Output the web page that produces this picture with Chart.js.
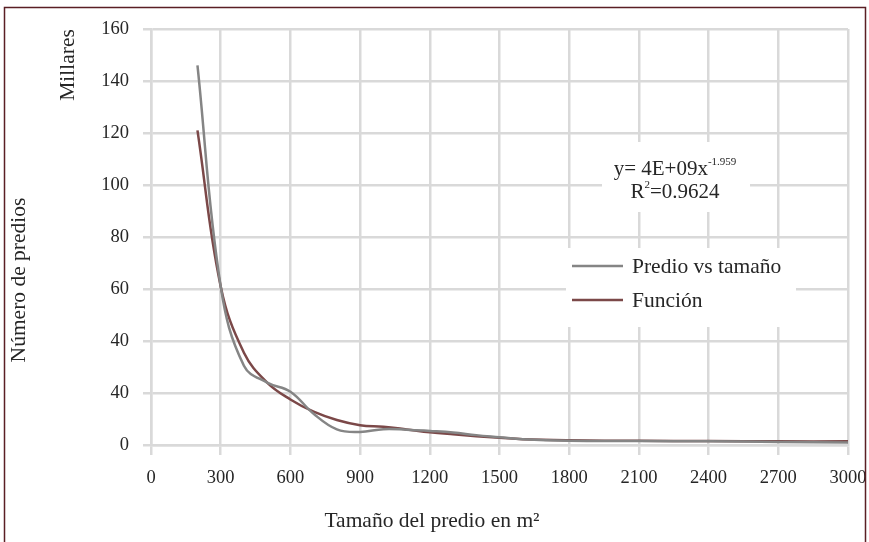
<!DOCTYPE html>
<html>
<head>
<meta charset="utf-8">
<script src="https://cdn.jsdelivr.net/npm/chart.js@4.4.0/dist/chart.umd.min.js"></script>
<style>
  body { margin: 0; background: #fff; }
  #wrap { width: 869px; height: 542px; }
</style>
</head>
<body>
<div id="wrap"><canvas id="predioChart" width="869" height="542"></canvas></div>
<script>
// tamaño del predio (m2) and the two series, in thousands
const xValues = [200, 300, 400, 500, 600, 700, 800, 900, 1000, 1100, 1200, 1300, 1400, 1500, 1600, 1800, 2100, 2400, 2700, 3000];
const predioValues = [146, 61, 30.5, 24, 20.5, 12, 6, 5, 6.1, 5.9, 5.4, 4.8, 3.8, 3, 2.2, 1.6, 1.5, 1.4, 1.2, 1.0];
const funcionValues = [121, 61, 35.5, 24, 17.5, 12.8, 9.6, 7.6, 7, 6, 4.9, 4.1, 3.4, 2.8, 2.2, 1.8, 1.6, 1.5, 1.4, 1.4];
const yTickLabels = ["0", "40", "40", "60", "80", "100", "120", "140", "160"];
const seriesNames = ["Predio vs tamaño", "Función"];

const serif = "'Liberation Serif', 'DejaVu Serif', serif";
const gridColor = "#d9d9d9";
const textColor = "#262626";

function toPoints(ys) {
  return xValues.map((x, i) => ({ x: x, y: ys[i] }));
}

// frame, titles, equation and legend box
const overlay = {
  id: "overlay",
  beforeDraw(chart) {
    const ctx = chart.ctx;
    ctx.save();
    ctx.fillStyle = "#fff";
    ctx.fillRect(0, 0, chart.width, chart.height);
    ctx.restore();
  },
  afterDraw(chart) {
    const ctx = chart.ctx;
    ctx.save();
    ctx.strokeStyle = "#5a1f24";
    ctx.lineWidth = 1.5;
    ctx.beginPath();
    ctx.moveTo(4.5, chart.height);
    ctx.lineTo(4.5, 7.5);
    ctx.lineTo(865.5, 7.5);
    ctx.lineTo(865.5, chart.height);
    ctx.stroke();

    ctx.fillStyle = textColor;
    ctx.textAlign = "center";
    ctx.textBaseline = "middle";
    ctx.font = "21.5px " + serif;
    ctx.fillText("Tamaño del predio en m²", 432, 521);

    ctx.save();
    ctx.translate(68, 65);
    ctx.rotate(-Math.PI / 2);
    ctx.fillText("Millares", 0, 0);
    ctx.restore();

    ctx.save();
    ctx.translate(19, 280);
    ctx.rotate(-Math.PI / 2);
    ctx.fillText("Número de predios", 0, 0);
    ctx.restore();

    // equation
    ctx.fillStyle = "#fff";
    ctx.fillRect(602, 142, 148, 70);
    ctx.fillStyle = textColor;
    ctx.textAlign = "left";
    ctx.textBaseline = "alphabetic";
    const big = "21px " + serif;
    const small = "11px " + serif;
    ctx.font = big;
    const eq = "y= 4E+09x";
    const sup = "-1.959";
    let w1 = ctx.measureText(eq).width;
    ctx.font = small;
    let w2 = ctx.measureText(sup).width;
    let x0 = 675 - (w1 + w2) / 2;
    ctx.font = big;
    ctx.fillText(eq, x0, 175);
    ctx.font = small;
    ctx.fillText(sup, x0 + w1, 165);

    ctx.font = big;
    const rW = ctx.measureText("R").width;
    const restW = ctx.measureText("=0.9624").width;
    ctx.font = small;
    const twoW = ctx.measureText("2").width;
    x0 = 675 - (rW + twoW + restW) / 2;
    ctx.font = big;
    ctx.fillText("R", x0, 198);
    ctx.font = small;
    ctx.fillText("2", x0 + rW, 188);
    ctx.font = big;
    ctx.fillText("=0.9624", x0 + rW + twoW, 198);

    // legend
    ctx.fillStyle = "#fff";
    ctx.fillRect(566, 248, 230, 79);
    ctx.font = "21.5px " + serif;
    ctx.textBaseline = "middle";
    chart.data.datasets.forEach((ds, i) => {
      const y = 266 + i * 34;
      ctx.strokeStyle = ds.borderColor;
      ctx.lineWidth = 2.5;
      ctx.beginPath();
      ctx.moveTo(572, y);
      ctx.lineTo(623, y);
      ctx.stroke();
      ctx.fillStyle = textColor;
      ctx.fillText(ds.label, 632, y + 1);
    });
    ctx.restore();
  },
};

new Chart(document.getElementById("predioChart"), {
  type: "line",
  data: {
    datasets: [
      {
        label: seriesNames[0],
        data: toPoints(predioValues),
        borderColor: "#858585",
        borderWidth: 2.5,
        pointRadius: 0,
        tension: 0.4,
        fill: false,
      },
      {
        label: seriesNames[1],
        data: toPoints(funcionValues),
        borderColor: "#7b4848",
        borderWidth: 2.5,
        pointRadius: 0,
        tension: 0.4,
        fill: false,
      },
    ],
  },
  options: {
    responsive: false,
    animation: false,
    layout: { padding: { top: 29, right: 21, bottom: 0, left: 0 } },
    plugins: {
      legend: { display: false },
      tooltip: { enabled: false },
    },
    scales: {
      x: {
        type: "linear",
        min: 0,
        max: 3000,
        ticks: {
          stepSize: 300,
          padding: 12,
          color: textColor,
          font: { family: serif, size: 18.5 },
          maxRotation: 0,
          callback: (v) => String(v),
        },
        grid: { color: gridColor, lineWidth: 2.5, tickLength: 10 },
        border: { color: gridColor, width: 2.5 },
        afterFit: (s) => { s.height = 97; s.paddingRight = 0; s.paddingLeft = 0; },
      },
      y: {
        min: 0,
        max: 160,
        ticks: {
          stepSize: 20,
          padding: 14,
          color: textColor,
          font: { family: serif, size: 18.5 },
          callback: (v, i) => yTickLabels[i],
        },
        grid: { color: gridColor, lineWidth: 2.5, tickLength: 8 },
        border: { color: gridColor, width: 2.5 },
        afterFit: (s) => { s.width = 151; s.paddingTop = 0; s.paddingBottom = 0; },
      },
    },
  },
  plugins: [overlay],
});
</script>
</body>
</html>
